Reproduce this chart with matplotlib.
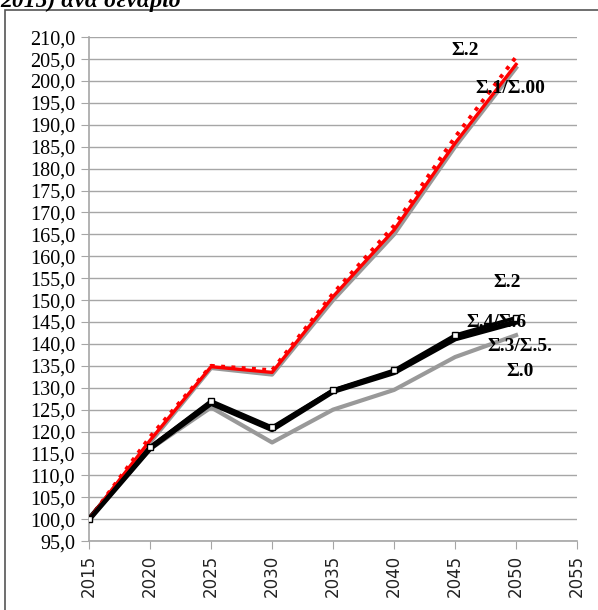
import matplotlib.pyplot as plt
from matplotlib.patches import Rectangle

years = [2015, 2020, 2025, 2030, 2035, 2040, 2045, 2050]

# Σενάρια (δείκτης, 2015 = 100)
s_red = [100.0, 118.0, 134.8, 133.5, 150.8, 166.0, 185.8, 203.8]
s_red_dot = [100.0, 118.8, 135.0, 134.0, 151.5, 167.0, 187.2, 205.5]
s_gray_hi = [100.0, 117.5, 134.5, 133.0, 150.0, 165.0, 185.0, 203.0]
s_black = [100.0, 116.5, 127.0, 121.0, 129.5, 134.0, 142.0, 146.0]
s_black2 = [100.0, 116.2, 126.5, 120.5, 129.2, 133.5, 141.2, 145.0]
s_gray = [100.0, 116.0, 125.5, 117.5, 125.0, 129.5, 137.0, 142.0]

yticks = [95 + 5 * i for i in range(24)]
xticks = [2015 + 5 * i for i in range(9)]

labels = [("Σ.2", 2045.8, 207.0), ("Σ.1/Σ.00", 2049.5, 198.4),
          ("Σ.2", 2049.3, 154.0), ("Σ.4/Σ.6", 2048.4, 145.0),
          ("Σ.3/Σ.5.", 2050.3, 139.3), ("Σ.0", 2050.3, 133.6)]

fig = plt.figure(figsize=(5.98, 6.10), dpi=100)
ax = fig.add_axes([0.149, 0.113, 0.816, 0.826])

# Πλαίσιο γραφήματος και κομμένος τίτλος
fig.patches.append(Rectangle((5 / 598, -0.01), 1.0, 1 - 10 / 610 + 0.01,
                             transform=fig.transFigure, fill=False,
                             edgecolor='#555555', linewidth=1.2))
fig.text(0.0, 0.9885, "2015) ανά σενάριο", family='Liberation Serif',
         fontsize=17, fontweight='bold', style='italic', va='baseline')

ax.plot(years, s_gray_hi, color='#999999', linewidth=3.0, zorder=2)
ax.plot(years, s_red_dot, color='red', linewidth=2.8, linestyle=':', zorder=3)
ax.plot(years, s_red, color='red', linewidth=2.4, zorder=4)
ax.plot(years, s_gray, color='#999999', linewidth=3.0, zorder=2)
ax.plot(years, s_black2, color='black', linewidth=4.0, zorder=3)
ax.plot(years, s_black, color='black', linewidth=2.5, marker='s', markersize=4.5,
        markerfacecolor='white', markeredgecolor='black', markeredgewidth=1.0, zorder=5)

for txt, x, y in labels:
    ax.text(x, y, txt, family='Liberation Serif', fontsize=14, fontweight='bold',
            ha='center', va='center', zorder=6)

ax.set_xlim(2015, 2055)
ax.set_ylim(95, 210)
ax.set_yticks(yticks)
ax.set_yticklabels([f"{v:.1f}".replace('.', ',') for v in yticks],
                   family='Liberation Serif', fontsize=14.5)
ax.set_xticks(xticks)
ax.set_xticklabels([str(v) for v in xticks], rotation=90, fontsize=12, color='#222222')

ax.yaxis.grid(True, color='#a6a6a6', linewidth=1.0)
ax.set_axisbelow(True)
for side in ['top', 'right']:
    ax.spines[side].set_visible(False)
for side in ['left', 'bottom']:
    ax.spines[side].set_color('#a6a6a6')
    ax.spines[side].set_linewidth(1.2)
ax.tick_params(axis='both', length=6, color='#a6a6a6', direction='out', pad=4)

fig.savefig('out.png', dpi=100)
